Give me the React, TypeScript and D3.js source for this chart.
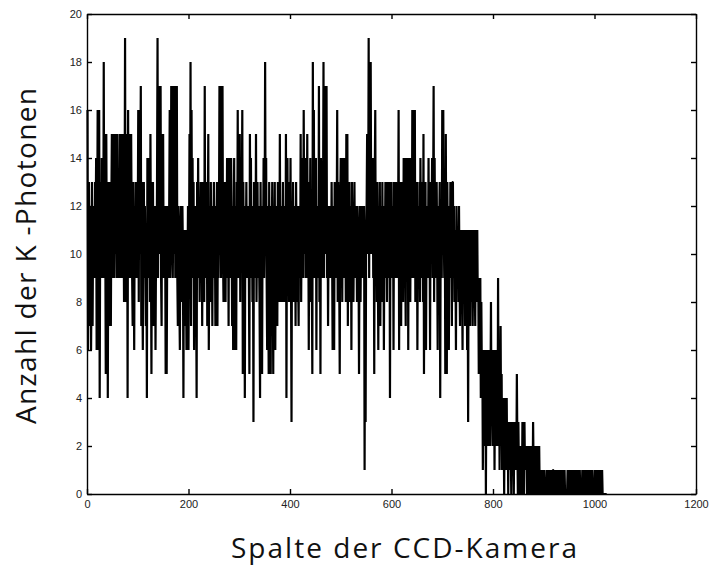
import { useRef, useEffect } from "react"
import * as d3 from "d3"

const WIDTH = 712
const HEIGHT = 566
const MARGIN = { top: 14, right: 16, bottom: 72, left: 87 }

const X_TICKS = [0, 200, 400, 600, 800, 1000, 1200]
const Y_TICKS = [0, 2, 4, 6, 8, 10, 12, 14, 16, 18, 20]

const X_TITLE = "Spalte der CCD-Kamera"
const Y_TITLE = "Anzahl der K -Photonen"

// photon counts per CCD column (column = index + 1)
const counts: number[] = [
  16,6,11,13,7,10,12,6,9,13,7,11,10,12,9,13,
  11,14,6,10,16,6,12,16,4,11,13,9,14,10,12,9,
  18,9,15,11,5,15,10,13,4,12,7,13,9,11,7,12,
  15,9,13,10,15,9,12,15,10,14,9,15,11,9,13,10,
  15,9,15,10,13,9,15,12,8,11,19,8,12,9,15,4,
  16,9,15,10,13,9,15,11,9,7,13,10,6,12,9,13,
  10,13,9,11,16,8,16,10,12,17,7,13,9,6,11,13,
  9,12,10,7,11,4,14,9,12,10,14,8,15,10,5,13,
  9,13,7,11,10,12,6,10,9,13,19,9,17,10,17,12,
  17,9,7,15,11,15,9,12,10,11,5,12,5,10,12,9,
  11,12,16,9,10,17,11,17,9,12,17,10,17,9,13,10,
  17,9,7,12,10,8,6,11,12,9,8,12,10,4,11,9,
  11,7,10,6,11,9,12,6,10,15,9,18,7,16,10,14,
  9,13,6,11,10,12,9,4,13,10,14,9,12,8,11,13,
  9,12,7,13,10,11,8,17,9,12,10,13,7,11,15,6,
  10,12,8,13,9,11,7,12,10,13,9,11,7,12,10,13,
  7,12,9,11,17,10,17,9,17,12,17,10,8,13,9,11,
  8,13,10,14,9,12,7,14,10,13,9,14,11,7,12,6,
  11,14,6,12,9,6,13,10,16,9,12,11,15,8,13,10,
  12,16,5,13,9,11,4,12,10,13,9,11,10,12,9,5,
  15,10,14,9,12,8,11,3,13,10,12,9,15,8,11,13,
  9,12,10,8,4,13,9,11,5,12,10,14,9,11,18,10,
  14,9,6,12,10,5,13,9,11,5,12,10,13,9,5,12,
  10,13,6,11,9,12,7,13,10,12,8,15,9,11,8,12,
  9,13,8,12,10,11,8,15,4,12,14,9,11,8,13,10,
  14,9,3,12,10,13,8,11,9,12,7,13,10,8,12,9,
  7,12,10,9,15,8,12,10,14,9,16,11,10,14,9,13,
  10,15,9,12,6,13,10,14,8,12,9,5,18,10,16,9,
  13,9,14,6,12,10,11,9,17,8,12,5,14,10,12,9,
  11,18,9,17,12,17,10,17,9,12,7,11,10,12,9,11,
  9,13,10,6,12,9,6,13,10,12,9,11,16,8,13,10,
  9,5,12,14,10,13,8,14,11,9,14,10,12,8,15,10,
  15,7,12,10,13,8,11,12,6,13,9,12,8,11,13,9,
  12,10,11,8,12,9,10,5,11,12,8,11,10,12,9,11,
  9,12,1,10,3,11,12,15,10,11,19,9,18,10,18,11,
  13,10,14,9,12,5,13,16,9,12,8,13,10,6,12,9,
  13,7,12,10,8,13,9,12,6,11,10,13,9,12,8,13,
  10,12,9,13,4,12,10,13,9,11,12,6,13,10,12,9,
  13,10,12,9,11,16,6,13,9,12,7,13,10,12,8,14,
  9,14,10,7,14,9,12,14,6,13,10,14,8,12,14,9,
  16,10,16,9,13,16,8,12,10,13,6,11,12,9,13,8,
  14,10,12,9,13,8,15,5,12,10,13,6,11,9,12,10,
  14,9,12,6,13,10,11,14,9,12,17,8,14,10,13,9,
  13,10,6,12,9,11,13,4,12,10,9,16,10,16,11,9,
  12,5,15,9,5,13,10,12,6,11,9,13,10,12,7,13,
  13,9,12,8,11,10,6,12,10,9,11,8,12,9,7,11,
  8,11,9,6,11,10,8,11,7,10,9,11,6,10,3,11,
  8,10,7,11,9,8,11,7,10,8,11,9,7,11,8,10,
  11,8,9,5,8,6,9,4,8,5,6,1,6,3,5,2,
  6,0,5,3,6,2,5,3,6,2,4,8,3,6,2,5,
  3,6,1,5,2,6,3,5,2,9,3,5,1,4,7,2,
  5,1,4,2,3,0,4,1,3,2,4,1,3,0,3,1,
  3,1,2,0,3,1,3,2,0,3,1,2,3,1,5,2,
  0,3,1,2,0,2,1,2,0,3,1,2,0,3,1,2,
  1,2,0,2,1,2,0,1,2,0,2,1,2,0,3,1,
  2,0,2,1,2,0,1,2,0,1,2,0,1,0,1,0,
  1,0,1,0,1,0,0,0,0,1,0,1,0,1,0,1,
  0,1,0,1,0,1,1,0,1,0,1,0,1,0,1,0,
  1,0,1,0,1,0,1,0,1,0,1,0,1,0,0,0,
  0,0,1,0,1,0,1,0,1,0,1,0,1,0,1,0,
  1,0,1,0,1,0,1,0,1,0,1,0,0,0,0,1,
  0,1,0,1,0,1,0,1,0,1,0,1,0,1,0,1,
  0,0,0,1,0,0,0,0,1,0,1,0,1,0,1,0,
  1,0,1,0,1,0,1,0,0,0,0,0,0,0,0,0,
]

const TICK_FONT = "'Liberation Sans', Arial, sans-serif"
const TITLE_FONT = "'Open Sans', 'DejaVu Sans', sans-serif"

export default function App() {
  const svgRef = useRef<SVGSVGElement>(null)

  useEffect(() => {
    const svg = svgRef.current
    if (!svg) return

    const innerW = WIDTH - MARGIN.left - MARGIN.right
    const innerH = HEIGHT - MARGIN.top - MARGIN.bottom

    d3.select(svg).selectAll("*").remove()

    const root = d3.select(svg)
      .append("g")
      .attr("transform", `translate(${MARGIN.left},${MARGIN.top})`)

    const xScale = d3.scaleLinear().domain([0, 1200]).range([0, innerW])
    const yScale = d3.scaleLinear().domain([0, 20]).range([innerH, 0])

    // ── Data line ─────────────────────────────────────────────────────────
    const line = d3.line<number>()
      .x((_, i) => xScale(i + 1))
      .y((d) => yScale(d))

    root.append("path")
      .datum(counts)
      .attr("d", line)
      .attr("fill", "none")
      .attr("stroke", "#000")
      .attr("stroke-width", 2.2)
      .attr("stroke-linejoin", "miter")
      .attr("stroke-miterlimit", 1)

    // ── Axes (ticks pointing inward, mirrored on top / right) ─────────────
    const styleAxis = (g: d3.Selection<SVGGElement, unknown, null, undefined>) => {
      g.select(".domain").attr("stroke", "#000").attr("stroke-width", 1.4)
      g.selectAll(".tick line").attr("stroke", "#000").attr("stroke-width", 1.4)
      g.selectAll("text")
        .attr("fill", "#222")
        .attr("font-size", 11)
        .attr("font-family", TICK_FONT)
    }

    const fmt = d3.format("d")

    root.append("g")
      .attr("transform", `translate(0,${innerH})`)
      .call(d3.axisBottom(xScale).tickValues(X_TICKS).tickSize(-5).tickSizeOuter(0).tickPadding(6).tickFormat((d) => fmt(d as number)))
      .call(styleAxis)

    root.append("g")
      .call(d3.axisTop(xScale).tickValues(X_TICKS).tickSize(-5).tickSizeOuter(0).tickFormat(() => ""))
      .call(styleAxis)

    root.append("g")
      .call(d3.axisLeft(yScale).tickValues(Y_TICKS).tickSize(-5).tickSizeOuter(0).tickPadding(5).tickFormat((d) => fmt(d as number)))
      .call(styleAxis)

    root.append("g")
      .attr("transform", `translate(${innerW},0)`)
      .call(d3.axisRight(yScale).tickValues(Y_TICKS).tickSize(-5).tickSizeOuter(0).tickFormat(() => ""))
      .call(styleAxis)

    // ── Titles ────────────────────────────────────────────────────────────
    d3.select(svg).append("text")
      .attr("x", 404)
      .attr("y", 558)
      .attr("text-anchor", "middle")
      .attr("font-family", TITLE_FONT)
      .attr("font-size", 28)
      .attr("fill", "#111")
      .attr("textLength", 346)
      .text(X_TITLE)

    d3.select(svg).append("text")
      .attr("transform", `translate(36,256) rotate(-90)`)
      .attr("text-anchor", "middle")
      .attr("font-family", TITLE_FONT)
      .attr("font-size", 28)
      .attr("fill", "#111")
      .attr("textLength", 336)
      .text(Y_TITLE)
  }, [])

  return (
    <svg
      ref={svgRef}
      width={WIDTH}
      height={HEIGHT}
      style={{ position: "absolute", left: 0, top: 0, background: "#fff", display: "block" }}
    />
  )
}
